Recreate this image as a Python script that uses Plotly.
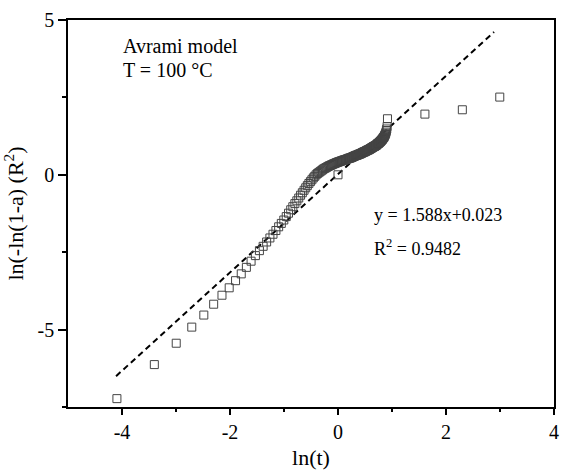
import numpy as np
import plotly.graph_objects as go

# time in seconds (1 s sampling, 1..150 s), converted to minutes
t_seconds = list(range(1, 151))
ln_term = [
    -7.23, -6.13, -5.44, -4.92, -4.53, -4.18, -3.89, -3.65, -3.42, -3.20,
    -2.99, -2.79, -2.61, -2.45, -2.31, -2.17, -2.04, -1.92, -1.80, -1.68,
    -1.57, -1.46, -1.35, -1.24, -1.13, -1.03, -0.93, -0.84, -0.75, -0.66,
    -0.58, -0.50, -0.42, -0.35, -0.28, -0.22, -0.16, -0.10, -0.05, 0.00,
    0.04, 0.07, 0.10, 0.13, 0.16, 0.19, 0.21, 0.23, 0.25, 0.27,
    0.29, 0.30, 0.32, 0.33, 0.35, 0.36, 0.37, 0.39, 0.40, 0.41,
    0.42, 0.43, 0.44, 0.45, 0.46, 0.47, 0.48, 0.48, 0.49, 0.50,
    0.51, 0.52, 0.53, 0.54, 0.54, 0.55, 0.56, 0.57, 0.58, 0.59,
    0.60, 0.61, 0.62, 0.63, 0.63, 0.64, 0.65, 0.66, 0.67, 0.67,
    0.68, 0.69, 0.70, 0.71, 0.72, 0.73, 0.74, 0.74, 0.75, 0.76,
    0.77, 0.78, 0.79, 0.80, 0.80, 0.81, 0.82, 0.83, 0.84, 0.85,
    0.86, 0.87, 0.88, 0.89, 0.90, 0.91, 0.92, 0.92, 0.93, 0.94,
    0.95, 0.96, 0.97, 0.99, 1.00, 1.01, 1.02, 1.03, 1.04, 1.06,
    1.07, 1.08, 1.10, 1.11, 1.13, 1.14, 1.16, 1.18, 1.20, 1.21,
    1.23, 1.26, 1.28, 1.31, 1.34, 1.38, 1.43, 1.48, 1.56, 1.81,
]
# additional sparse points (time in minutes)
t_extra = [1, 5, 10, 20]
ln_extra = [0.00, 1.96, 2.10, 2.51]

fit_slope = 1.588
fit_intercept = 0.023
fit_x_range = [-4.11, 2.89]

x_tick_vals = [-4, -2, 0, 2, 4]
x_tick_text = ["-4", "-2", "0", "2", "4"]
y_tick_vals = [-5, 0, 5]
y_tick_text = ["-5", "0", "5"]

x_main = np.log(np.array(t_seconds) / 60.0)
x_extra = np.log(np.array(t_extra, dtype=float))
x_all = np.concatenate([x_main, x_extra])
y_all = np.concatenate([np.array(ln_term), np.array(ln_extra)])

fit_x = np.array(fit_x_range)
fit_y = fit_slope * fit_x + fit_intercept

FONT = "Liberation Serif"

fig = go.Figure()
fig.add_trace(go.Scatter(
    x=fit_x, y=fit_y, mode="lines",
    line=dict(color="black", width=2, dash="6px,4px"),
    showlegend=False, hoverinfo="skip",
))
fig.add_trace(go.Scatter(
    x=x_all, y=y_all, mode="markers",
    marker=dict(symbol="square-open", size=8, color="#444", line=dict(width=1, color="#444")),
    showlegend=False,
))

fig.update_layout(
    width=564, height=472,
    margin=dict(l=68, r=5, t=20, b=65),
    paper_bgcolor="white", plot_bgcolor="white",
    font=dict(family=FONT, size=20, color="black"),
    xaxis=dict(
        range=[-5, 4], tickmode="array", tickvals=x_tick_vals, ticktext=x_tick_text,
        ticks="outside", ticklen=6, tickwidth=1.5, tickcolor="black",
        showline=True, linecolor="black", linewidth=1.5, mirror=True,
        showgrid=False, zeroline=False,
        minor=dict(tickmode="array", tickvals=[-3, -1, 1, 3], ticks="outside", ticklen=3, tickwidth=1.5, tickcolor="black", showgrid=False),
        title=dict(text="ln(t)", font=dict(size=22, family=FONT), standoff=8),
        tickfont=dict(size=20, family=FONT),
    ),
    yaxis=dict(
        range=[-7.5, 5], tickmode="array", tickvals=y_tick_vals, ticktext=y_tick_text,
        ticks="outside", ticklen=8, tickwidth=1.5, tickcolor="black",
        showline=True, linecolor="black", linewidth=1.5, mirror=True,
        showgrid=False, zeroline=False,
        minor=dict(tickmode="array", tickvals=[-7.5, -2.5, 2.5], ticks="outside", ticklen=4, tickwidth=1.5, tickcolor="black", showgrid=False),
        title=dict(text="ln(-ln(1-a) (R<sup>2</sup>)", font=dict(size=22, family=FONT), standoff=10),
        tickfont=dict(size=20, family=FONT),
    ),
    annotations=[
        dict(xref="paper", yref="paper", x=0.11, y=0.933, xanchor="left", yanchor="middle",
             text="Avrami model", showarrow=False, font=dict(size=20, family=FONT)),
        dict(xref="paper", yref="paper", x=0.11, y=0.871, xanchor="left", yanchor="middle",
             text="T = 100 °C", showarrow=False, font=dict(size=20, family=FONT)),
        dict(xref="paper", yref="paper", x=0.625, y=0.496, xanchor="left", yanchor="middle",
             text="y = 1.588x+0.023", showarrow=False, font=dict(size=18, family=FONT)),
        dict(xref="paper", yref="paper", x=0.625, y=0.412, xanchor="left", yanchor="middle",
             text="R<sup>2</sup> = 0.9482", showarrow=False, font=dict(size=18, family=FONT)),
    ],
)

fig.write_html("out.html")
